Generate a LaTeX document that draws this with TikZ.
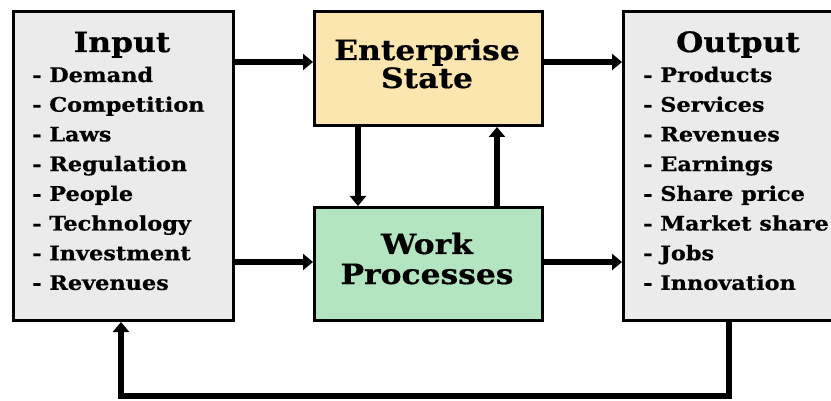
\documentclass[tikz,border=0pt]{standalone}
\usepackage{fontspec}
\setmainfont[FakeStretch=1.12,FakeBold=0.6]{DejaVu Serif}
\usetikzlibrary{arrows.meta}
\definecolor{boxgray}{HTML}{EBEBEB}
\definecolor{stateyellow}{HTML}{FCE6B0}
\definecolor{workgreen}{HTML}{B3E5C0}
\tikzset{
  panel/.style={draw=black, line width=3pt, anchor=north west, inner sep=0pt},
  flow/.style={line width=6pt, -{Triangle[length=10pt,width=16pt]}},
  title/.style={font=\bfseries\fontsize{28}{28}\selectfont, anchor=base, inner sep=0pt},
  item/.style={font=\bfseries\fontsize{20}{20}\selectfont, anchor=base west, inner sep=0pt},
}
\begin{document}
\begin{tikzpicture}[x=1pt,y=-1pt]
\useasboundingbox (0,0) rectangle (831,401);

% the four blocks
\node[panel, fill=boxgray, minimum width=220pt, minimum height=309pt] (in) at (12,10) {};
\node[panel, fill=stateyellow, minimum width=228pt, minimum height=114pt] (es) at (313,10) {};
\node[panel, fill=workgreen, minimum width=228pt, minimum height=113pt] (wp) at (313,206) {};
\node[panel, fill=boxgray, minimum width=232pt, minimum height=309pt] (out) at (622,10) {};

% titles
\node[title] (tin) at (122,52) {Input};
\node[title] (tout) at (738,52) {Output};
\node[title] (tes1) at (427,60) {Enterprise};
\node[title] (tes2) at (427,88) {State};
\node[title] (twp1) at (427,254) {Work};
\node[title] (twp2) at (427,284) {Processes};

% input list
\foreach \t [count=\i from 0] in {Demand,Competition,Laws,Regulation,People,Technology,Investment,Revenues}
  \node[item] (inl\i) at (32,82+29.7*\i) {- \t};

% output list
\foreach \t [count=\i from 0] in {Products,Services,Revenues,Earnings,Share price,Market share,Jobs,Innovation}
  \node[item] (outl\i) at (643,82+29.7*\i) {- \t};

% connectors
\coordinate (a1) at (233,62);
\coordinate (a2) at (233,262);
\draw[flow] (in.east |- a1) -- (es.west |- a1);
\draw[flow] (in.east |- a2) -- (wp.west |- a2);
\draw[flow] (es.east |- a1) -- (out.west |- a1);
\draw[flow] (wp.east |- a2) -- (out.west |- a2);

\coordinate (dn) at (358,0);
\coordinate (up) at (497,0);
\draw[flow] (es.south -| dn) -- (wp.north -| dn);
\draw[flow] (wp.north -| up) -- (es.south -| up);

% feedback loop from output back to input
\coordinate (fbr) at (729,396);
\coordinate (fbl) at (121,396);
\draw[flow] (out.south -| fbr) -- (fbr) -- (fbl) -- (in.south -| fbl);
\end{tikzpicture}
\end{document}
